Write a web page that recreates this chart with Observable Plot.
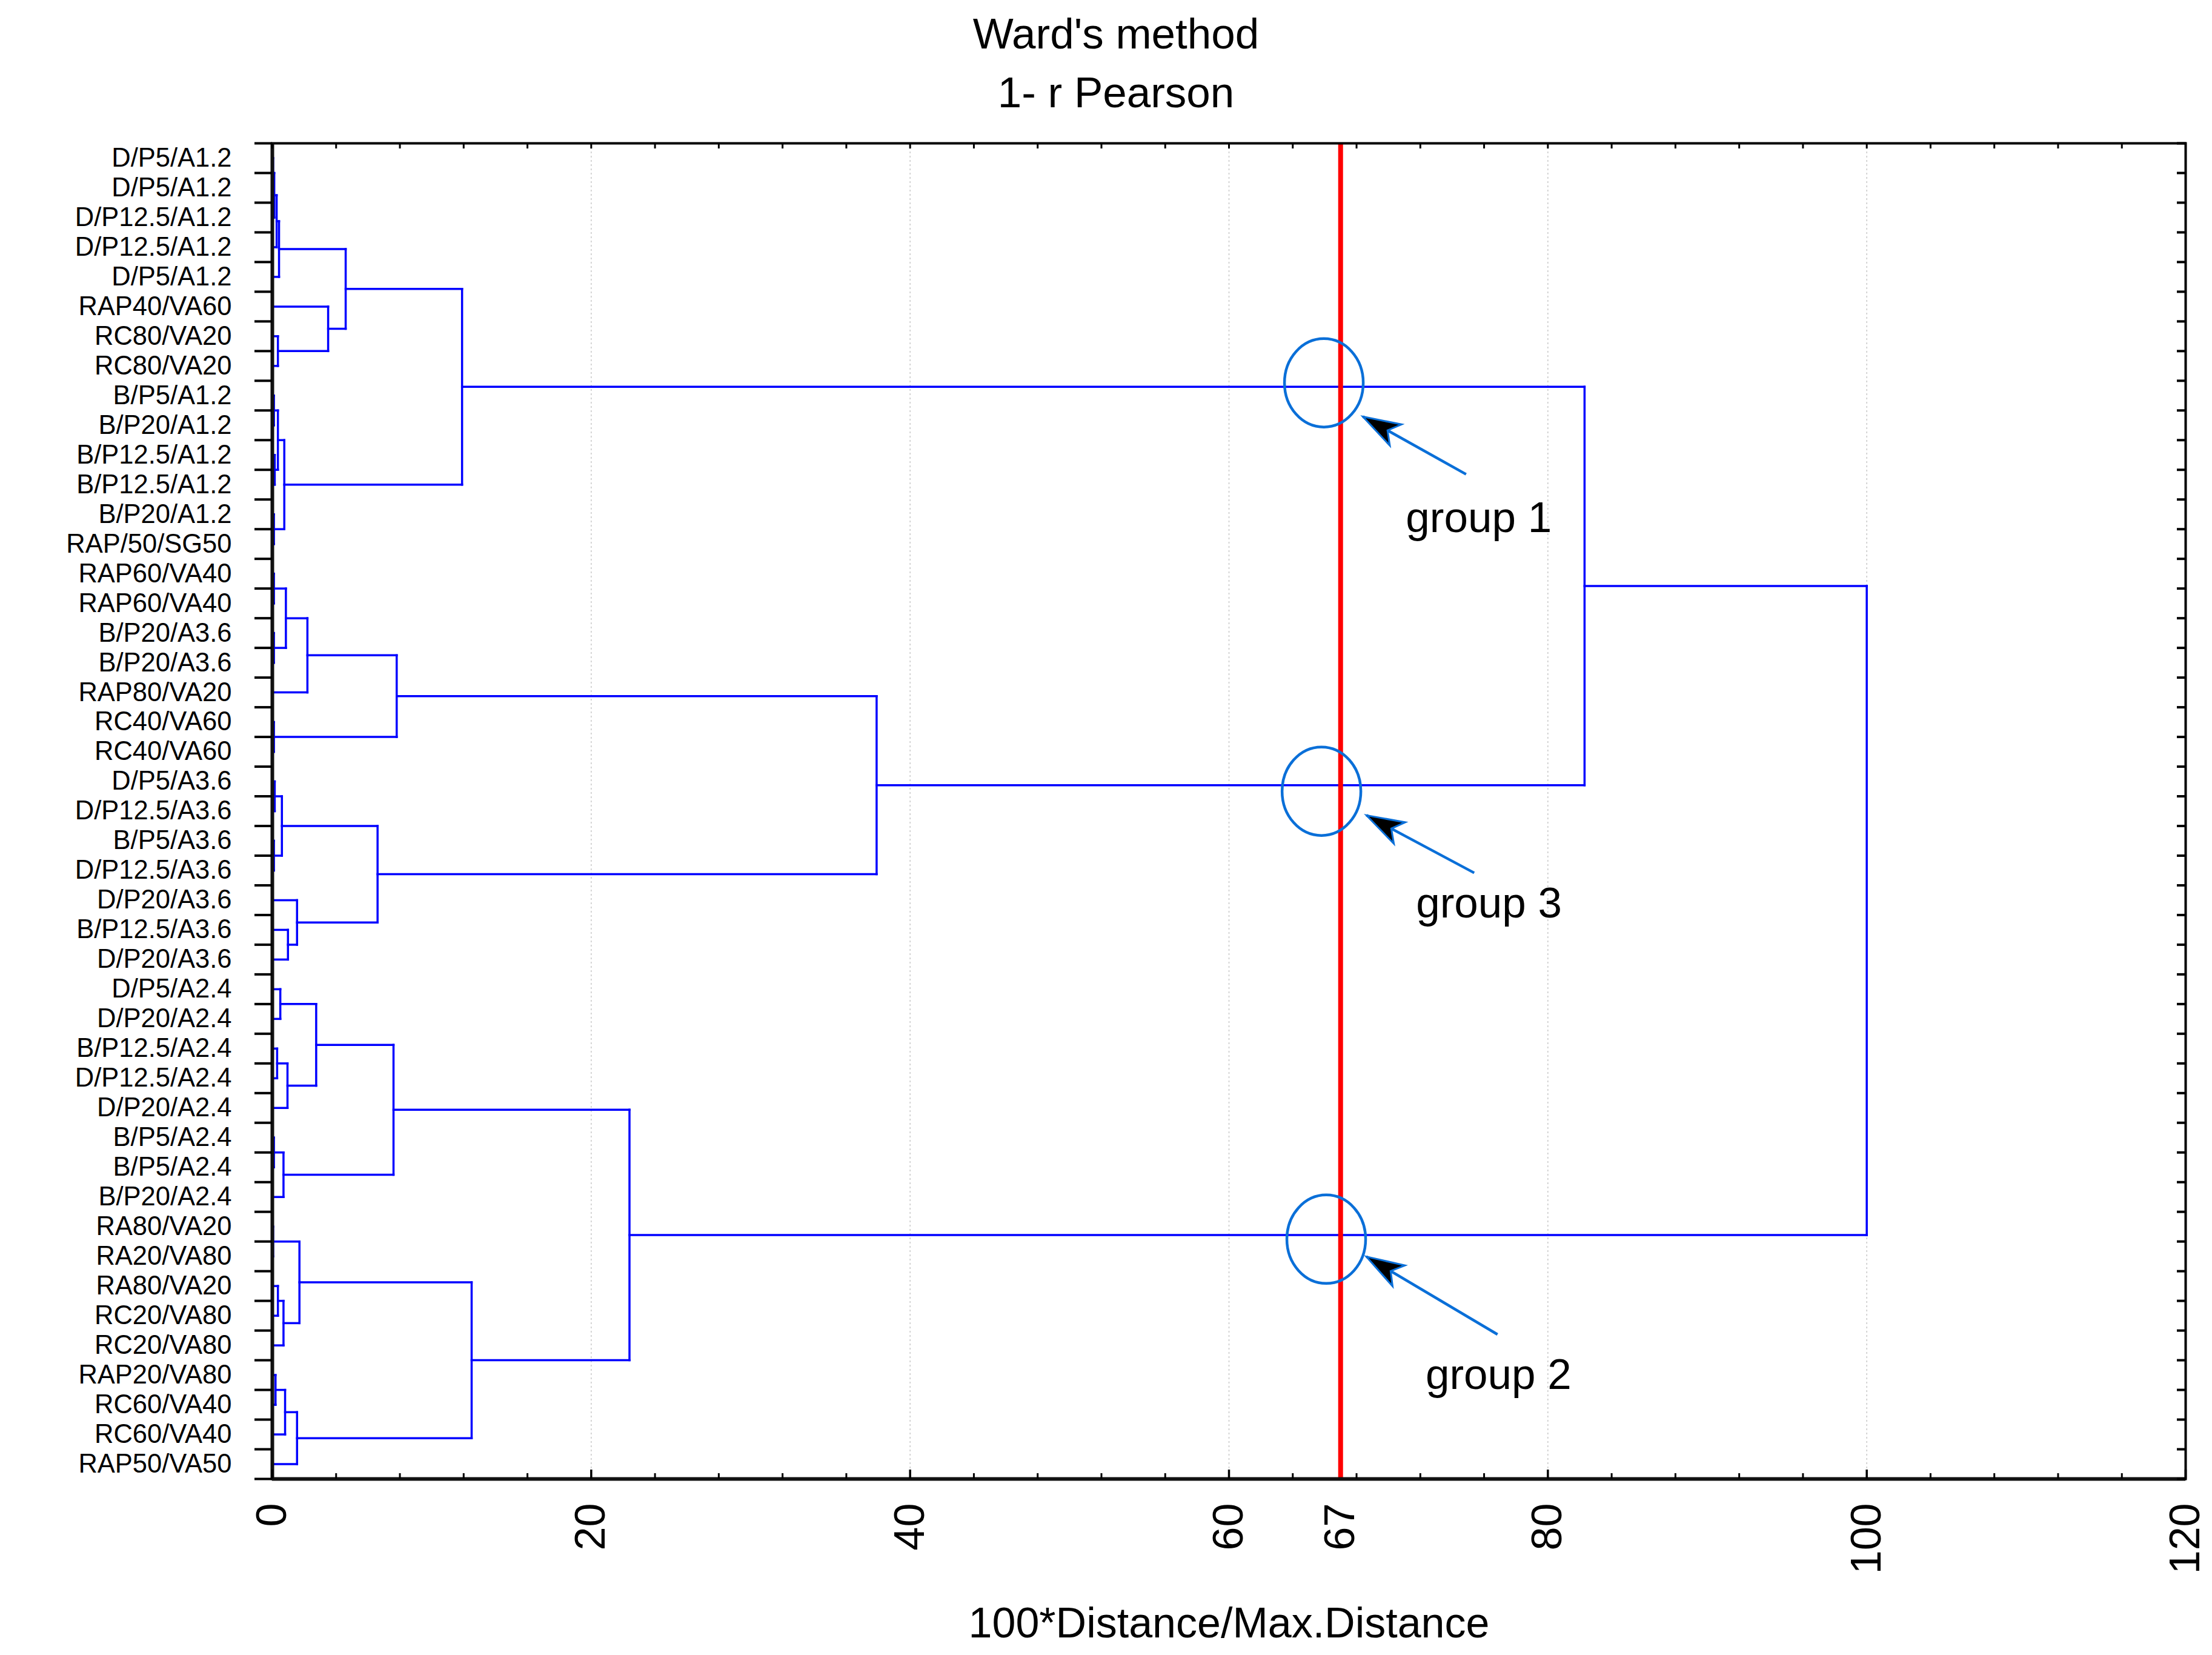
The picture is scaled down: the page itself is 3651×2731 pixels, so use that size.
<!DOCTYPE html>
<html>
<head>
<meta charset="utf-8">
<script src="https://cdn.jsdelivr.net/npm/d3@7"></script>
<script src="https://cdn.jsdelivr.net/npm/@observablehq/plot@0.6"></script>
<style>
  html, body { margin: 0; padding: 0; background: #ffffff; }
  #chart { width: 3651px; height: 2731px; background: #ffffff; }
  svg { display: block; }
</style>
</head>
<body>
<div id="chart"></div>
<script>
// ---------------- data ----------------
const titleLines = ["Ward's method", "1- r Pearson"];
const xLabel = "100*Distance/Max.Distance";

const leafLabels = [
  "D/P5/A1.2", "D/P5/A1.2", "D/P12.5/A1.2", "D/P12.5/A1.2", "D/P5/A1.2",
  "RAP40/VA60", "RC80/VA20", "RC80/VA20", "B/P5/A1.2", "B/P20/A1.2",
  "B/P12.5/A1.2", "B/P12.5/A1.2", "B/P20/A1.2", "RAP/50/SG50", "RAP60/VA40",
  "RAP60/VA40", "B/P20/A3.6", "B/P20/A3.6", "RAP80/VA20", "RC40/VA60",
  "RC40/VA60", "D/P5/A3.6", "D/P12.5/A3.6", "B/P5/A3.6", "D/P12.5/A3.6",
  "D/P20/A3.6", "B/P12.5/A3.6", "D/P20/A3.6", "D/P5/A2.4", "D/P20/A2.4",
  "B/P12.5/A2.4", "D/P12.5/A2.4", "D/P20/A2.4", "B/P5/A2.4", "B/P5/A2.4",
  "B/P20/A2.4", "RA80/VA20", "RA20/VA80", "RA80/VA20", "RC20/VA80",
  "RC20/VA80", "RAP20/VA80", "RC60/VA40", "RC60/VA40", "RAP50/VA50"
];

// merge table (R hclust style): negative = leaf number, positive = earlier merge row; third = linkage distance
const merges = [
  [-1, -2, 0.05], [1, -3, 0.12], [2, -4, 0.27], [3, -5, 0.42],      // 1-4
  [-7, -8, 0.35], [-6, 5, 3.5], [4, 6, 4.6],                         // 5-7
  [-9, -10, 0.1], [-11, -12, 0.15], [8, 9, 0.35], [-13, -14, 0.1],   // 8-11
  [10, 11, 0.75], [7, 12, 11.9],                                     // 12-13 (group 1)
  [-15, -16, 0.1], [-17, -18, 0.1], [14, 15, 0.85], [16, -19, 2.2],  // 14-17
  [-20, -21, 0.1], [17, 18, 7.8],                                    // 18-19
  [-22, -23, 0.15], [-24, -25, 0.1], [20, 21, 0.6],                  // 20-22
  [-27, -28, 0.98], [-26, 23, 1.55], [22, 24, 6.6], [19, 25, 37.9],  // 23-26 (group 3)
  [-29, -30, 0.5], [-31, -32, 0.3], [28, -33, 0.95], [27, 29, 2.75], // 27-30
  [-34, -35, 0.1], [31, -36, 0.7], [30, 32, 7.6],                    // 31-33
  [-37, -38, 0.05], [-39, -40, 0.35], [35, -41, 0.7], [34, 36, 1.7], // 34-37
  [-42, -43, 0.2], [38, -44, 0.8], [39, -45, 1.55], [37, 40, 12.5],  // 38-41
  [33, 41, 22.4],                                                    // 42 (group 2)
  [13, 26, 82.3], [43, 42, 100]                                      // 43-44
];

const majorTicks = [0, 20, 40, 60, 80, 100, 120];
const xTickLabels = [0, 20, 40, 60, 67, 80, 100, 120];
const gridValues = [20, 40, 60, 80, 100];
const cutHeight = 67;

const groupNames = ["group 1", "group 3", "group 2"];
const circleX = [65.95, 65.8, 66.1];
const circleY = [8.57, 22.33, 37.42];
const arrowTailX = [74.87, 75.38, 76.84];
const arrowTailY = [11.65, 25.08, 40.63];
const arrowTipX = [68.4, 68.62, 68.62];
const arrowTipY = [9.71, 23.14, 38.01];
const textX = [71.09, 71.73, 72.33];
const textY = [13.13, 26.11, 42.0];

// ---------------- layout ----------------
const W = 3651, headerH = 200, H = 2731 - headerH;
const mL = 449, mR = 44, mT = 36, mB = 291;
const xMax = 120, nLeaves = leafLabels.length;
const kx = (W - mL - mR) / xMax;
const ky = (H - mT - mB) / nLeaves;
const FONT = "'Liberation Sans', Arial, Helvetica, sans-serif";
const BLUE = "#0000ff";
const ANNOT = "#0a6fd8";

// ---------------- dendrogram geometry from merge table ----------------
const nodeY = [], nodeH = [];
const ref = r => r < 0 ? {y: -r, h: 0} : {y: nodeY[r - 1], h: nodeH[r - 1]};
const segs = [];
merges.forEach(([a, b, h], k) => {
  const A = ref(a), B = ref(b);
  segs.push({x1: A.h, y1: A.y, x2: h, y2: A.y});
  segs.push({x1: B.h, y1: B.y, x2: h, y2: B.y});
  segs.push({x1: h, y1: A.y, x2: h, y2: B.y});
  nodeY[k] = (A.y + B.y) / 2;
  nodeH[k] = h;
});

const leafIdx = d3.range(1, nLeaves + 1);
const boundaries = d3.range(0.5, nLeaves + 1, 1);
const allFour = d3.range(0, xMax + 1, 4);
const minorTicks = allFour.filter(v => v % 20 !== 0);
const gi = d3.range(groupNames.length);

// ellipse symbol for the group circles
const ellipseSymbol = {
  draw(ctx) {
    const rx = 65, ry = 73, c = 0.5523;
    ctx.moveTo(rx, 0);
    ctx.bezierCurveTo(rx, ry * c, rx * c, ry, 0, ry);
    ctx.bezierCurveTo(-rx * c, ry, -rx, ry * c, -rx, 0);
    ctx.bezierCurveTo(-rx, -ry * c, -rx * c, -ry, 0, -ry);
    ctx.bezierCurveTo(rx * c, -ry, rx, -ry * c, rx, 0);
    ctx.closePath();
  }
};

// arrowhead symbols oriented along each arrow
function headSymbol(i) {
  const dx = (arrowTipX[i] - arrowTailX[i]) * kx;
  const dy = (arrowTipY[i] - arrowTailY[i]) * ky;
  const len = Math.hypot(dx, dy), ux = dx / len, uy = dy / len;
  const L = 62, w = 20;
  return {
    draw(ctx) {
      const bx = -L * ux, by = -L * uy;
      ctx.moveTo(0, 0);
      ctx.lineTo(bx - w * uy, by + w * ux);
      ctx.lineTo(bx + 0.25 * L * ux, by + 0.25 * L * uy);
      ctx.lineTo(bx + w * uy, by - w * ux);
      ctx.closePath();
    }
  };
}

// ---------------- header (title) ----------------
const header = d3.create("svg")
  .attr("width", W).attr("height", headerH)
  .style("display", "block").style("background", "#fff");
header.selectAll("text").data(titleLines).join("text")
  .attr("x", 1842)
  .attr("y", (d, i) => [80, 177][i])
  .attr("text-anchor", "middle")
  .attr("font-family", FONT)
  .attr("font-size", 71)
  .attr("fill", "#000")
  .text(d => d);

// ---------------- plot ----------------
const plot = Plot.plot({
  width: W, height: H,
  marginLeft: mL, marginRight: mR, marginTop: mT, marginBottom: mB,
  style: {fontFamily: FONT, background: "#fff", color: "#000", overflow: "visible"},
  x: {domain: [0, xMax]},
  y: {domain: [0.5, nLeaves + 0.5], reverse: true},
  marks: [
    Plot.ruleX(gridValues, {stroke: "#c8c8c8", strokeWidth: 1.5, strokeDasharray: "3,4"}),
    Plot.link(segs, {x1: "x1", y1: "y1", x2: "x2", y2: "y2", stroke: BLUE, strokeWidth: 3.5, strokeLinecap: "square"}),
    Plot.ruleX([cutHeight], {stroke: "#ff0000", strokeWidth: 8}),
    Plot.frame({stroke: "#000", strokeWidth: 4}),
    Plot.ruleX([0], {stroke: "#111", strokeWidth: 6}),
    Plot.ruleY([nLeaves + 0.5], {stroke: "#111", strokeWidth: 6}),
    // y axis: labels and boundary ticks
    Plot.axisY({anchor: "left", ticks: leafIdx, tickFormat: i => leafLabels[i - 1], tickSize: 0, tickPadding: 67, fontSize: 43.5, label: null}),
    Plot.axisY({anchor: "left", ticks: boundaries, tickFormat: () => "", tickSize: 29, strokeWidth: 4, label: null}),
    Plot.axisY({anchor: "right", ticks: boundaries, tickFormat: () => "", tickSize: 15, dx: -15, strokeWidth: 4, label: null}),
    // x axis: inward ticks and rotated labels
    Plot.axisX({anchor: "bottom", ticks: majorTicks, tickFormat: () => "", tickSize: 15, dy: -15, strokeWidth: 3.5, label: null}),
    Plot.axisX({anchor: "bottom", ticks: minorTicks, tickFormat: () => "", tickSize: 9, dy: -9, strokeWidth: 3, label: null}),
    Plot.axisX({anchor: "top", ticks: allFour, tickFormat: () => "", tickSize: 8, dy: 8, strokeWidth: 3, label: null}),
    Plot.axisX({anchor: "bottom", ticks: xTickLabels, tickSize: 0, tickPadding: 40, tickRotate: -90, fontSize: 70, label: null}),
    Plot.text([xLabel], {frameAnchor: "bottom", lineAnchor: "middle", text: d => d, dy: 239, fontSize: 70, fill: "#000"}),
    // annotations
    Plot.dot(gi, {x: i => circleX[i], y: i => circleY[i], symbol: ellipseSymbol, fill: "none", stroke: ANNOT, strokeWidth: 4.5}),
    Plot.link(gi, {x1: i => arrowTailX[i], y1: i => arrowTailY[i], x2: i => arrowTipX[i], y2: i => arrowTipY[i], stroke: ANNOT, strokeWidth: 4.5}),
    ...gi.map(i => Plot.dot([i], {x: j => arrowTipX[j], y: j => arrowTipY[j], symbol: headSymbol(i), fill: "#000", stroke: ANNOT, strokeWidth: 3})),
    Plot.text(gi, {x: i => textX[i], y: i => textY[i], text: i => groupNames[i], textAnchor: "start", fontSize: 71, fill: "#000"})
  ]
});

const chart = document.getElementById("chart");
chart.appendChild(header.node());
chart.appendChild(plot);
</script>
</body>
</html>
